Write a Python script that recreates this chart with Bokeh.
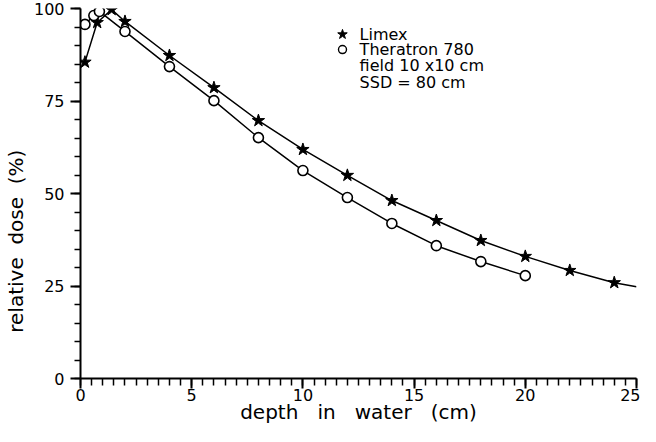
from bokeh.plotting import figure
from bokeh.models import Range1d, FixedTicker, Label
from bokeh.embed import file_html
from bokeh.resources import INLINE

# Limex (stars)
limex_depth = [0.2, 0.75, 1.4, 2.0, 4.0, 6.0, 8.0, 10.0, 12.0, 14.0, 16.0, 18.0, 20.0, 22.0, 24.0]
limex_dose = [85.5, 96.2, 99.7, 96.5, 87.3, 78.6, 69.7, 61.9, 54.9, 48.1, 42.7, 37.3, 33.0, 29.2, 25.9]
# fitted curve continues to the axis end
limex_curve_depth = limex_depth + [25.0]
limex_curve_dose = limex_dose + [24.8]

# Theratron 780 (open circles)
thera_depth = [0.2, 0.6, 0.85, 2.0, 4.0, 6.0, 8.0, 10.0, 12.0, 14.0, 16.0, 18.0, 20.0]
thera_dose = [95.7, 98.1, 99.2, 93.8, 84.3, 75.1, 65.1, 56.2, 48.9, 41.9, 35.9, 31.6, 27.8]

x_ticks = [0, 5, 10, 15, 20, 25]
y_ticks = [0, 25, 50, 75, 100]
x_minor = [i * 0.5 for i in range(51)]
y_minor = [i * 5 for i in range(21)]

legend_lines = ["Limex", "Theratron 780", "field 10 x10 cm", "SSD = 80 cm"]
x_title = ["depth", "in", "water", "(cm)"]
y_title = ["relative", "dose", "(%)"]

FONT = "DejaVu Sans"
NB = "\u00a0"

p = figure(width=640, height=426, output_backend="svg", toolbar_location=None,
           x_range=Range1d(0, 25), y_range=Range1d(0, 100),
           min_border_left=80, min_border_right=4, min_border_top=8, min_border_bottom=48)
p.outline_line_color = None
p.xgrid.visible = False
p.ygrid.visible = False
p.background_fill_color = "white"

p.line(limex_curve_depth, limex_curve_dose, line_color="black", line_width=1.5)
p.line(thera_depth, thera_dose, line_color="black", line_width=1.5)
p.scatter(limex_depth, limex_dose, marker="star", size=13, fill_color="black", line_color="black")
p.scatter(thera_depth, thera_dose, marker="circle", size=10, fill_color="white",
          line_color="black", line_width=1.6)

for ax, ticks, minor in ((p.xaxis[0], x_ticks, x_minor), (p.yaxis[0], y_ticks, y_minor)):
    ax.ticker = FixedTicker(ticks=ticks, minor_ticks=minor)
    ax.axis_line_width = 2
    ax.axis_line_color = "black"
    ax.major_tick_line_width = 2
    ax.minor_tick_line_width = 1.5
    ax.major_tick_in = 0
    ax.minor_tick_in = 0
    ax.major_label_text_font = FONT
    ax.major_label_text_font_size = "16px"
    ax.major_label_text_color = "black"
    ax.axis_label_text_font = FONT
    ax.axis_label_text_font_style = "normal"
    ax.axis_label_text_font_size = "20px"
    ax.axis_label_text_color = "black"

p.xaxis.axis_label = (NB * 3).join(x_title)
p.xaxis.major_tick_out = 10
p.xaxis.minor_tick_out = 7
p.xaxis.major_label_standoff = 0
p.xaxis.axis_label_standoff = -4

# trailing padding shifts the vertical title toward the lower part of the axis
p.yaxis.axis_label = (NB * 2).join(y_title) + NB * 15
p.yaxis.major_tick_out = 10
p.yaxis.minor_tick_out = 6
p.yaxis.major_label_standoff = 6
p.yaxis.axis_label_standoff = 3
p.yaxis.major_label_orientation = "horizontal"

# legend block
p.scatter([11.78], [93.0], marker="star", size=10, fill_color="black", line_color="black")
p.scatter([11.78], [88.9], marker="circle", size=8, fill_color="white", line_color="black", line_width=1.4)
ys = [93.0, 88.9, 84.6, 80.0]
for txt, yy in zip(legend_lines, ys):
    p.add_layout(Label(x=12.55, y=yy, text=txt, text_font=FONT, text_font_size="16px",
                       text_baseline="middle", text_align="left", text_color="black"))

open("out.html", "w").write(file_html(p, INLINE))
